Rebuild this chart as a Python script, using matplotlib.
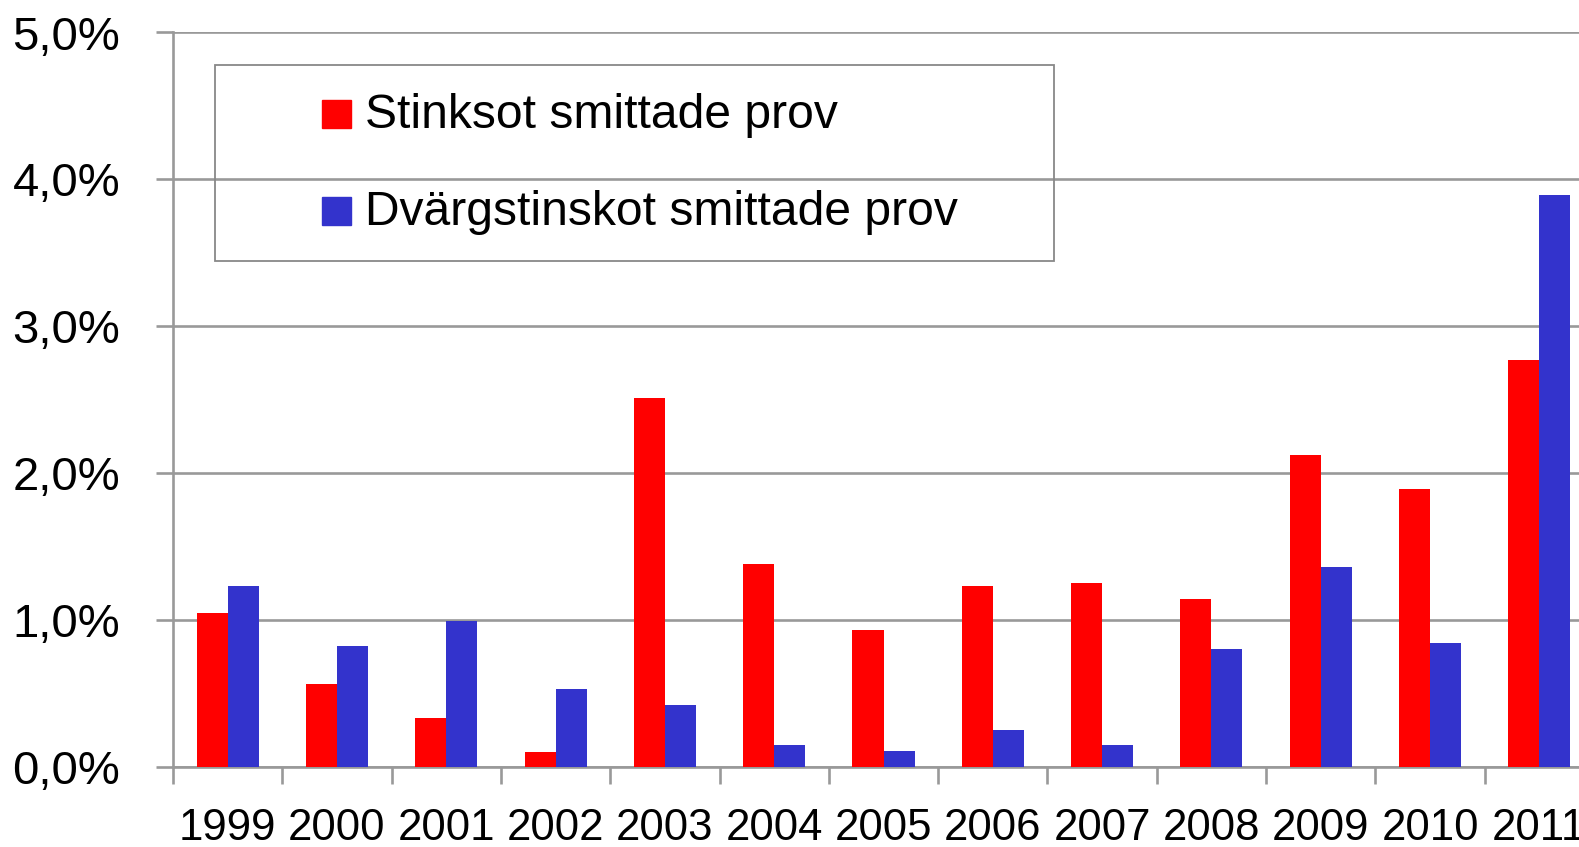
import numpy as np
import matplotlib
matplotlib.use("Agg")
import matplotlib.pyplot as plt
from matplotlib.patches import Rectangle
from matplotlib.ticker import FuncFormatter

years = ["1999", "2000", "2001", "2002", "2003", "2004", "2005",
         "2006", "2007", "2008", "2009", "2010", "2011"]
stinksot = [1.05, 0.56, 0.33, 0.10, 2.51, 1.38, 0.93, 1.23, 1.25, 1.14, 2.12, 1.89, 2.77]
dvargstinksot = [1.23, 0.82, 0.99, 0.53, 0.42, 0.15, 0.11, 0.25, 0.15, 0.80, 1.36, 0.84, 3.89]
labels = ["Stinksot smittade prov", "Dvärgstinskot smittade prov"]
colors = ["#FF0000", "#3333CC"]

plt.rcParams["font.family"] = ["Liberation Sans", "DejaVu Sans"]

W, H = 1579, 847
fig = plt.figure(figsize=(W / 100, H / 100), dpi=100)


def fx(px):
    return px / W


def fy(py):
    return 1 - py / H


# axes extends past the right edge of the figure (cut off in original)
ax_left, ax_right, ax_top, ax_bot = 173, 1594, 32.5, 766.7
ax = fig.add_axes([fx(ax_left), fy(ax_bot), fx(ax_right - ax_left), (ax_bot - ax_top) / H])

x = np.arange(len(years))
w = 0.284
ax.bar(x - w / 2, stinksot, w, color=colors[0], zorder=3)
ax.bar(x + w / 2, dvargstinksot, w, color=colors[1], zorder=3)

grid_c = "#999999"
ax.set_xlim(-0.5, len(years) - 0.5)
ax.set_ylim(0, 5)
ax.set_yticks(np.arange(0, 5.1, 1))
ax.yaxis.set_major_formatter(FuncFormatter(lambda v, p: f"{v:.1f}%".replace(".", ",")))
ax.grid(axis="y", color=grid_c, linewidth=1.9, zorder=0)
ax.set_axisbelow(True)

ax.set_xticks(np.arange(-0.5, len(years), 1))
ax.set_xticklabels([])
ax.set_xticks(x, minor=True)
ax.set_xticklabels(years, minor=True, fontsize=31.5)
ax.tick_params(axis="x", which="major", length=12, width=1.9, color=grid_c, direction="out")
ax.tick_params(axis="x", which="minor", length=0, pad=30)
ax.tick_params(axis="y", length=12, width=1.9, color=grid_c, labelsize=34, pad=26)

for s in ["top", "right"]:
    ax.spines[s].set_visible(False)
for s in ["left", "bottom"]:
    ax.spines[s].set_color(grid_c)
    ax.spines[s].set_linewidth(1.9)

# legend box drawn by hand to match the wide framed layout
fig.patches.append(Rectangle((fx(215), fy(260.7)), fx(1054 - 215), (260.7 - 65) / H,
                             transform=fig.transFigure, fill=False,
                             edgecolor="#888888", linewidth=1.3, zorder=5))
for i, (lab, c) in enumerate(zip(labels, colors)):
    top = 100 + i * 96.7
    fig.patches.append(Rectangle((fx(322), fy(top + 28.5)), fx(29), 28.5 / H,
                                 transform=fig.transFigure, color=c, zorder=6))
    fig.text(fx(365), fy(top + 16), lab, fontsize=34.6, va="center", ha="left")

fig.savefig("out.png", dpi=100)
